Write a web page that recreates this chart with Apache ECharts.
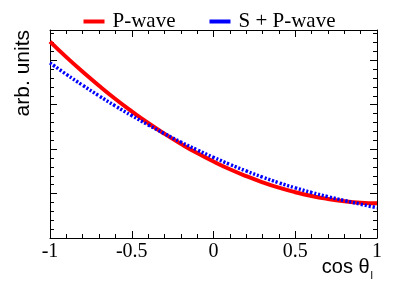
<!DOCTYPE html>
<html>
<head>
<meta charset="utf-8">
<script src="https://cdn.jsdelivr.net/npm/echarts@6/dist/echarts.min.js"></script>
<style>html,body{margin:0;padding:0;background:#fff}#c{width:419px;height:284px}</style>
</head>
<body>
<div id="c"></div>
<script>
const cosTheta = [-1,-0.9,-0.8,-0.7,-0.6,-0.5,-0.4,-0.3,-0.2,-0.1,0,0.1,0.2,0.3,0.4,0.5,0.6,0.7,0.8,0.9,1];
const pWave = [22.1,20.35,18.7,17.13,15.64,14.25,12.94,11.73,10.6,9.55,8.6,7.73,6.96,6.27,5.66,5.15,4.72,4.39,4.14,3.97,3.9];
const spWave = [19.7,18.41,17.18,15.99,14.85,13.77,12.73,11.74,10.8,9.91,9.07,8.28,7.54,6.85,6.21,5.64,5.12,4.65,4.22,3.8,3.4];
const xTickLabels = {"-1":"-1","-0.5":"-0.5","0":"0","0.5":"0.5","1":"1"};
const seriesNames = ["P-wave","S + P-wave"];

const chart = echarts.init(document.getElementById('c'), null, {renderer:'canvas'});
const serif = 'Liberation Serif';
const sans = 'Liberation Sans';
function xAx(pos, showLabel){
  return {
    type:'value', position:pos, min:-1, max:1, interval:0.5,
    axisLine:{show:true, onZero:false, lineStyle:{color:'#000', width:1}},
    axisTick:{show:true, inside:true, length:7, lineStyle:{color:'#000'}},
    minorTick:{show:true, splitNumber:5, length:4, lineStyle:{color:'#000'}},
    splitLine:{show:false}, minorSplitLine:{show:false},
    axisLabel:{show:showLabel, margin:4, fontFamily:serif, fontSize:20, color:'#000',
      formatter:v => xTickLabels[String(v)] ?? String(v)}
  };
}
function yAx(pos){
  return {
    type:'value', position:pos, min:0, max:23.4, interval:5,
    axisLine:{show:true, onZero:false, lineStyle:{color:'#000', width:1}},
    axisTick:{show:true, inside:true, length:7, lineStyle:{color:'#000'}},
    minorTick:{show:true, splitNumber:5, length:4, lineStyle:{color:'#000'}},
    splitLine:{show:false}, minorSplitLine:{show:false},
    axisLabel:{show:false}
  };
}
chart.setOption({
  animation:false,
  backgroundColor:'#fff',
  grid:{left:50, right:42, top:30, bottom:46},
  legend:{
    top:6, left:'center', itemGap:34, itemWidth:21, itemHeight:4,
    icon:'rect',
    textStyle:{fontFamily:serif, fontSize:21, color:'#000', lineHeight:21, padding:[0,0,0,3]},
    data:[{name:seriesNames[0], itemStyle:{color:'#ff0000'}},{name:seriesNames[1], itemStyle:{color:'#0000ff'}}]
  },
  xAxis:[xAx('bottom', true), xAx('top', false)],
  yAxis:[yAx('left'), yAx('right')],
  graphic:[
    {type:'text', x:373, y:277, style:{
      text:'{a|cos θ}{s|l}', align:'right', verticalAlign:'bottom',
      rich:{a:{fontFamily:sans, fontSize:20, fill:'#000', verticalAlign:'bottom'},
            s:{fontFamily:sans, fontSize:11, fill:'#000', padding:[0,0,-4,1], verticalAlign:'bottom'}}
    }},
    {type:'text', x:34, y:30, rotation:Math.PI/2, style:{
      text:'arb. units', align:'right', verticalAlign:'bottom',
      fontFamily:sans, fontSize:21, fill:'#000'
    }}
  ],
  series:[
    {name:seriesNames[0], type:'line', smooth:true, showSymbol:false, xAxisIndex:0, yAxisIndex:0,
     data:cosTheta.map((c,i)=>[c,pWave[i]]),
     lineStyle:{color:'#ff0000', width:4}, itemStyle:{color:'#ff0000'}, z:2},
    {name:seriesNames[1], type:'line', smooth:true, showSymbol:false, xAxisIndex:0, yAxisIndex:0,
     data:cosTheta.map((c,i)=>[c,spWave[i]]),
     lineStyle:{color:'#0000ff', width:3.5, type:[2.2,1.8], cap:'butt'}, itemStyle:{color:'#0000ff'}, z:3}
  ]
});
</script>
</body>
</html>
